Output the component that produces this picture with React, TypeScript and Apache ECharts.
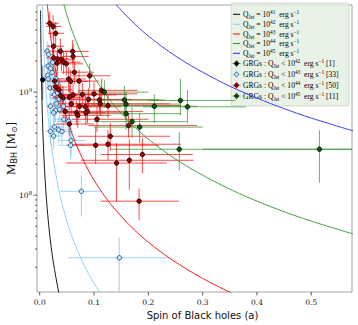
import React, { useEffect, useRef } from "react";
import * as echarts from "echarts";

// ---------- data ----------
const xTicks = [0, 0.1, 0.2, 0.3, 0.4, 0.5];
const yMajorTicks = [1e8, 1e9];
const yMinorTicks = [
  2e7, 3e7, 4e7, 5e7, 6e7, 7e7, 8e7, 9e7,
  2e8, 3e8, 4e8, 5e8, 6e8, 7e8, 8e8, 9e8,
  2e9, 3e9, 4e9, 5e9, 6e9,
];

// Q_jet curves [a, M_BH]
const curveQ41 = [
  [0.0015, 6.2e9], [0.002, 3.5e9], [0.003, 1.56e9], [0.005, 5.6e8], [0.008, 2.19e8],
  [0.012, 9.7e7], [0.018, 4.3e7], [0.025, 2.24e7], [0.035, 1.14e7], [0.04, 8.75e6],
];
const curveQ42 = [
  [0.0045, 6.9e9], [0.005, 5.6e9], [0.006, 3.89e9], [0.008, 2.19e9], [0.01, 1.4e9],
  [0.012, 9.72e8], [0.015, 6.22e8], [0.018, 4.32e8], [0.022, 2.89e8], [0.026, 2.07e8],
  [0.03, 1.56e8], [0.035, 1.14e8], [0.042, 7.94e7], [0.05, 5.6e7], [0.06, 3.89e7],
  [0.07, 2.86e7], [0.08, 2.19e7], [0.09, 1.73e7], [0.1, 1.4e7], [0.11, 1.157e7], [0.12, 9.72e6],
];
const curveQ43 = [
  [0.014, 7.14e9], [0.016, 5.47e9], [0.018, 4.32e9], [0.021, 3.17e9], [0.025, 2.24e9],
  [0.03, 1.56e9], [0.035, 1.14e9], [0.042, 7.94e8], [0.05, 5.6e8], [0.06, 3.89e8],
  [0.07, 2.86e8], [0.085, 1.94e8], [0.1, 1.4e8], [0.12, 9.72e7], [0.14, 7.14e7],
  [0.17, 4.84e7], [0.2, 3.5e7], [0.24, 2.43e7], [0.28, 1.79e7], [0.32, 1.37e7], [0.36, 1.08e7],
];
const curveQ44 = [
  [0.044, 7.23e9], [0.05, 5.6e9], [0.06, 3.89e9], [0.07, 2.86e9], [0.08, 2.19e9],
  [0.09, 1.73e9], [0.1, 1.4e9], [0.115, 1.06e9], [0.13, 8.28e8], [0.15, 6.22e8],
  [0.17, 4.84e8], [0.2, 3.5e8], [0.24, 2.43e8], [0.28, 1.79e8], [0.33, 1.29e8],
  [0.38, 9.7e7], [0.44, 7.23e7], [0.5, 5.6e7], [0.58, 4.16e7],
];
const curveQ45 = [
  [0.14, 7.14e9], [0.16, 5.47e9], [0.18, 4.32e9], [0.2, 3.5e9], [0.23, 2.65e9],
  [0.26, 2.07e9], [0.3, 1.56e9], [0.35, 1.14e9], [0.4, 8.75e8], [0.45, 6.91e8],
  [0.5, 5.6e8], [0.58, 4.16e8],
];

// GRGs: [a, M, aLow, aHigh, MLow, MHigh]
const grgQ42 = [
  [0.0055, 1.32e9, 0.002, 0.009, 8.3e8, 1.8e9],
];
const grgQ43 = [
  [0.0136, 2.5e9, 0.008, 0.022, 2.0e9, 3.1e9],
  [0.0166, 2.32e9, 0.01, 0.028, 1.85e9, 2.9e9],
  [0.0154, 1.79e9, 0.009, 0.026, 1.4e9, 2.3e9],
  [0.024, 1.95e9, 0.014, 0.038, 1.55e9, 2.45e9],
  [0.0142, 1.45e9, 0.008, 0.024, 1.15e9, 1.85e9],
  [0.0154, 1.34e9, 0.009, 0.026, 1.05e9, 1.7e9],
  [0.0228, 1.55e9, 0.013, 0.036, 1.2e9, 1.95e9],
  [0.0295, 1.35e9, 0.017, 0.045, 1.05e9, 1.7e9],
  [0.0313, 1.23e9, 0.018, 0.048, 0.95e9, 1.55e9],
  [0.019, 1.1e9, 0.011, 0.032, 0.85e9, 1.4e9],
  [0.0257, 1.1e9, 0.015, 0.04, 0.85e9, 1.4e9],
  [0.027, 9.5e8, 0.016, 0.042, 7.4e8, 1.2e9],
  [0.033, 9.8e8, 0.019, 0.05, 7.6e8, 1.25e9],
  [0.0357, 8.55e8, 0.021, 0.055, 6.6e8, 1.1e9],
  [0.0417, 8.6e8, 0.025, 0.062, 6.7e8, 1.1e9],
  [0.0197, 7.3e8, 0.011, 0.033, 5.6e8, 9.4e8],
  [0.0307, 7.7e8, 0.018, 0.048, 6.0e8, 9.9e8],
  [0.0289, 6.65e8, 0.017, 0.046, 5.1e8, 8.6e8],
  [0.0368, 6.8e8, 0.022, 0.056, 5.2e8, 8.8e8],
  [0.0257, 6.3e8, 0.015, 0.042, 4.8e8, 8.2e8],
  [0.0436, 7.3e8, 0.026, 0.065, 5.6e8, 9.4e8],
  [0.0441, 5.45e8, 0.026, 0.066, 4.1e8, 7.1e8],
  [0.0533, 5.2e8, 0.032, 0.078, 3.9e8, 6.9e8],
  [0.027, 4.6e8, 0.016, 0.044, 3.5e8, 6.0e8],
  [0.0197, 4.17e8, 0.011, 0.034, 3.1e8, 5.5e8],
  [0.035, 4.3e8, 0.021, 0.054, 3.2e8, 5.7e8],
  [0.041, 4.14e8, 0.024, 0.062, 3.1e8, 5.5e8],
  [0.0257, 3.75e8, 0.015, 0.042, 2.8e8, 5.0e8],
  [0.0577, 3.4e8, 0.035, 0.085, 2.4e8, 4.6e8],
  [0.057, 3.05e8, 0.034, 0.084, 2.2e8, 4.2e8],
  [0.0767, 1.09e8, 0.038, 0.112, 6.2e7, 1.55e8],
  [0.1465, 2.47e7, 0.052, 0.24, 1.0e7, 3.9e7],
  [0.02, 1.7e9, 0.012, 0.03, 1.35e9, 2.15e9],
];
const grgQ44 = [
  [0.0184, 4.65e9, 0.01, 0.035, 3.6e9, 6.0e9],
  [0.0246, 4.33e9, 0.012, 0.04, 3.3e9, 5.6e9],
  [0.0294, 3.72e9, 0.015, 0.045, 2.9e9, 4.8e9],
  [0.0257, 2.79e9, 0.013, 0.045, 2.1e9, 3.6e9],
  [0.038, 2.49e9, 0.02, 0.06, 1.9e9, 3.3e9],
  [0.0607, 2.48e9, 0.035, 0.09, 1.9e9, 3.2e9],
  [0.0614, 2.22e9, 0.04, 0.09, 1.7e9, 2.9e9],
  [0.0257, 2.15e9, 0.012, 0.045, 1.6e9, 2.8e9],
  [0.033, 2.1e9, 0.018, 0.055, 1.6e9, 2.7e9],
  [0.04, 2.06e9, 0.022, 0.065, 1.6e9, 2.7e9],
  [0.044, 1.95e9, 0.025, 0.075, 1.5e9, 2.5e9],
  [0.032, 1.91e9, 0.015, 0.055, 1.45e9, 2.5e9],
  [0.0638, 1.56e9, 0.04, 0.1, 1.2e9, 2.0e9],
  [0.092, 1.44e9, 0.06, 0.13, 1.1e9, 1.9e9],
  [0.0533, 1.34e9, 0.03, 0.085, 1.0e9, 1.75e9],
  [0.057, 1.27e9, 0.035, 0.09, 0.97e9, 1.65e9],
  [0.0724, 1.28e9, 0.045, 0.11, 0.98e9, 1.65e9],
  [0.0276, 1.28e9, 0.014, 0.05, 0.98e9, 1.65e9],
  [0.0294, 1.12e9, 0.015, 0.05, 0.85e9, 1.45e9],
  [0.0357, 1.05e9, 0.018, 0.06, 0.8e9, 1.35e9],
  [0.0386, 9.3e8, 0.02, 0.07, 7.1e8, 1.2e9],
  [0.0546, 8.95e8, 0.03, 0.09, 6.8e8, 1.17e9],
  [0.0614, 9.4e8, 0.035, 0.14, 7.2e8, 1.22e9],
  [0.0785, 9.5e8, 0.045, 0.16, 7.3e8, 1.23e9],
  [0.1, 9.6e8, 0.06, 0.18, 7.3e8, 1.25e9],
  [0.114, 1.04e9, 0.07, 0.18, 8.0e8, 1.35e9],
  [0.043, 8.8e8, 0.022, 0.08, 6.7e8, 1.15e9],
  [0.09, 8.5e8, 0.05, 0.17, 6.5e8, 1.1e9],
  [0.11, 8.4e8, 0.06, 0.22, 6.4e8, 1.1e9],
  [0.1116, 7.7e8, 0.065, 0.24, 5.9e8, 1.0e9],
  [0.058, 7.7e8, 0.03, 0.11, 5.9e8, 1.0e9],
  [0.0735, 7.3e8, 0.04, 0.13, 5.6e8, 9.5e8],
  [0.084, 7.2e8, 0.045, 0.15, 5.5e8, 9.4e8],
  [0.1257, 7.4e8, 0.07, 0.26, 5.6e8, 9.6e8],
  [0.047, 6.5e8, 0.025, 0.085, 5.0e8, 8.5e8],
  [0.0675, 6.3e8, 0.035, 0.12, 4.8e8, 8.2e8],
  [0.07, 5.95e8, 0.04, 0.13, 4.5e8, 7.8e8],
  [0.088, 6.5e8, 0.05, 0.19, 5.0e8, 8.5e8],
  [0.085, 6.3e8, 0.045, 0.16, 4.8e8, 8.2e8],
  [0.1055, 5.45e8, 0.06, 0.2, 4.1e8, 7.2e8],
  [0.0546, 4.9e8, 0.03, 0.1, 3.7e8, 6.4e8],
  [0.1636, 4.73e8, 0.09, 0.29, 3.6e8, 6.2e8],
  [0.13, 3.73e8, 0.07, 0.24, 2.7e8, 5.0e8],
  [0.1257, 3.12e8, 0.06, 0.26, 2.2e8, 4.3e8],
  [0.103, 3.05e8, 0.05, 0.22, 2.0e8, 4.6e8],
  [0.1415, 2.05e8, 0.049, 0.234, 8.6e7, 3.2e8],
  [0.165, 2.18e8, 0.076, 0.283, 1.13e8, 3.5e8],
  [0.189, 2.48e8, 0.113, 0.282, 1.63e8, 3.6e8],
  [0.183, 8.75e7, 0.112, 0.256, 5.7e7, 1.16e8],
  [0.049, 1.88e9, 0.028, 0.08, 1.45e9, 2.45e9],
];
const grgQ45 = [
  [0.119, 1.0e9, 0.07, 0.2, 7.0e8, 1.3e9],
  [0.156, 8.4e8, 0.1, 0.23, 6.2e8, 1.15e9],
  [0.159, 7.65e8, 0.09, 0.26, 5.3e8, 1.0e9],
  [0.211, 7.3e8, 0.12, 0.29, 5.0e8, 9.5e8],
  [0.159, 6.17e8, 0.09, 0.26, 4.3e8, 8.5e8],
  [0.17, 5.17e8, 0.1, 0.27, 3.6e8, 7.2e8],
  [0.184, 4.58e8, 0.1, 0.3, 3.2e8, 6.3e8],
  [0.259, 8.3e8, 0.2, 0.36, 6.0e8, 1.35e9],
  [0.272, 7.2e8, 0.19, 0.38, 5.0e8, 1.05e9],
  [0.257, 2.79e8, 0.13, 0.58, 1.74e8, 4.1e8],
  [0.515, 2.79e8, 0.3, 0.62, 1.32e8, 4.26e8],
];

const curveLabels = ["41", "42", "43", "44", "45"];
const grgLabels = ["42", "43", "44", "45"];
const grgCounts = ["1", "33", "50", "11"];

// ---------- styles ----------
const curveColors = ["#000000", "#87cefa", "#ff0000", "#2e9a2e", "#2a2aff"];
const barColors = ["rgba(70,70,70,0.75)", "rgba(135,206,250,0.85)", "rgba(255,0,0,0.7)", "rgba(40,140,40,0.7)"];
const markerFill = ["#000000", "#bfe3f7", "#9a0000", "#0a5a0a"];
const markerEdge = ["#000000", "#1d3f6e", "#000000", "#000000"];
const SERIF = "'Liberation Serif', 'DejaVu Serif', serif";
const SYM = "'DejaVu Sans', 'Liberation Serif', serif";

function errorBarSeries(rows: number[][], color: string) {
  return {
    type: "custom",
    data: rows,
    encode: { x: 0, y: 1 },
    clip: true,
    silent: true,
    z: 2,
    renderItem: (params: any, api: any) => {
      const a = api.value(0), m = api.value(1);
      const h1 = api.coord([api.value(2), m]);
      const h2 = api.coord([api.value(3), m]);
      const v1 = api.coord([a, api.value(4)]);
      const v2 = api.coord([a, api.value(5)]);
      const st = { stroke: color, lineWidth: 1 };
      return {
        type: "group",
        children: [
          { type: "line", shape: { x1: h1[0], y1: h1[1], x2: h2[0], y2: h2[1] }, style: st },
          { type: "line", shape: { x1: v1[0], y1: v1[1], x2: v2[0], y2: v2[1] }, style: st },
        ],
      };
    },
  };
}

function tickSeries(values: number[], axis: "x" | "y", len: number) {
  return {
    type: "custom",
    data: values.map((v) => (axis === "x" ? [v, 1e8] : [0, v])),
    encode: { x: 0, y: 1 },
    clip: false,
    silent: true,
    z: 10,
    renderItem: (params: any, api: any) => {
      const p = api.coord([api.value(0), api.value(1)]);
      const cs = params.coordSys;
      const st = { stroke: "#333", lineWidth: 0.8 };
      if (axis === "x") {
        const yb = cs.y + cs.height;
        return { type: "line", shape: { x1: p[0], y1: yb, x2: p[0], y2: yb + len }, style: st };
      }
      return { type: "line", shape: { x1: cs.x - len, y1: p[1], x2: cs.x, y2: p[1] }, style: st };
    },
  };
}

const legendRich = {
  t: { fontFamily: SERIF, fontSize: 7.6, lineHeight: 10, color: "#111", verticalAlign: "middle" },
  b: { fontFamily: SERIF, fontSize: 5.3, lineHeight: 5, color: "#111", verticalAlign: "bottom" },
  p: { fontFamily: SERIF, fontSize: 5.3, lineHeight: 5, color: "#111", verticalAlign: "top" },
};

function buildLegend() {
  const children: any[] = [];
  children.push({
    type: "rect",
    shape: { x: 231, y: 3, width: 118, height: 103, r: 2 },
    style: { fill: "rgba(228,239,224,0.82)", stroke: "#c8cfc6", lineWidth: 0.7 },
  });
  const lineRows = [14.3, 24.3, 34, 43.5, 53.3];
  curveLabels.forEach((q, i) => {
    const y = lineRows[i];
    children.push({
      type: "line",
      shape: { x1: 233, y1: y, x2: 240, y2: y },
      style: { stroke: curveColors[i], lineWidth: 1 },
    });
    children.push({
      type: "text",
      x: 243,
      y: y,
      style: {
        text: `{t|Q}{b|Jet}{t| = 10}{p|${q}}{t|  erg s}{p|−1}`,
        rich: legendRich,
        verticalAlign: "middle",
        align: "left",
      },
    });
  });
  const grgRows = [63.5, 74.3, 85.3, 96];
  grgLabels.forEach((q, i) => {
    const y = grgRows[i];
    children.push({
      type: "line",
      shape: { x1: 232.5, y1: y, x2: 240.5, y2: y },
      style: { stroke: barColors[i], lineWidth: 1 },
    });
    children.push({
      type: "line",
      shape: { x1: 236.5, y1: y - 3.5, x2: 236.5, y2: y + 3.5 },
      style: { stroke: barColors[i], lineWidth: 1 },
    });
    children.push({
      type: "circle",
      shape: { cx: 236.5, cy: y, r: 2 },
      style: { fill: markerFill[i], stroke: markerEdge[i], lineWidth: 0.7 },
    });
    children.push({
      type: "text",
      x: 243,
      y: y,
      style: {
        text: `{t|GRGs : Q}{b|Jet}{t| < 10}{p|${q}}{t|  erg s}{p|−1}{t| [${grgCounts[i]}]}`,
        rich: legendRich,
        verticalAlign: "middle",
        align: "left",
      },
    });
  });
  return { type: "group", children, z: 100 };
}

export default function App() {
  const ref = useRef<HTMLDivElement>(null);
  useEffect(() => {
    if (!ref.current) return;
    const chart = echarts.init(ref.current, undefined, { renderer: "svg" });
    const curves = [curveQ41, curveQ42, curveQ43, curveQ44, curveQ45];
    const groups = [grgQ42, grgQ43, grgQ44, grgQ45];
    const series: any[] = [];
    groups.forEach((g, i) => series.push(errorBarSeries(g, barColors[i])));
    curves.forEach((c, i) =>
      series.push({
        type: "line",
        data: c,
        showSymbol: false,
        symbol: "none",
        smooth: 0.3,
        clip: true,
        silent: true,
        z: 3,
        lineStyle: { color: curveColors[i], width: 0.9 },
      })
    );
    groups.forEach((g, i) =>
      series.push({
        type: "scatter",
        data: g.map((r) => [r[0], r[1]]),
        symbol: "circle",
        symbolSize: 4.5,
        silent: true,
        z: 4,
        itemStyle: { color: markerFill[i], borderColor: markerEdge[i], borderWidth: 0.8, opacity: 1 },
      })
    );
    series.push(tickSeries(xTicks, "x", 3.5));
    series.push(tickSeries(yMajorTicks, "y", 3.5));
    series.push(tickSeries(yMinorTicks, "y", 2));

    chart.setOption({
      animation: false,
      backgroundColor: "#ffffff",
      grid: {
        left: 37,
        right: 6,
        top: 5,
        bottom: 33,
        show: true,
        borderColor: "#8c8c8c",
        borderWidth: 0.8,
        backgroundColor: "transparent",
        containLabel: false,
        outerBoundsMode: "none",
      },
      xAxis: {
        type: "value",
        min: -0.005,
        max: 0.575,
        axisLine: { show: false },
        axisTick: { show: false },
        splitLine: { show: false },
        axisLabel: {
          showMinLabel: false,
          showMaxLabel: false,
          margin: 6,
          fontFamily: "'DejaVu Serif', serif",
          fontSize: 7.5,
          color: "#111",
          formatter: (v: number) => v.toFixed(1),
        },
        name: "Spin of Black holes (a)",
        nameLocation: "middle",
        nameGap: 18,
        nameMoveOverlap: false,
        nameTextStyle: {
          fontFamily: "'DejaVu Sans', sans-serif",
          fontSize: 10,
          color: "#111",
          padding: [0, 0, 0, 16],
        },
      },
      yAxis: {
        type: "log",
        logBase: 10,
        min: 1.15e7,
        max: 7e9,
        axisLine: { show: false },
        axisTick: { show: false },
        splitLine: { show: false },
        minorTick: { show: false },
        axisLabel: {
          showMinLabel: false,
          showMaxLabel: false,
          margin: 5,
          formatter: (v: number) => `{b|10}{s|${Math.round(Math.log10(v))}}`,
          rich: {
            b: { fontFamily: "'DejaVu Serif', serif", fontSize: 7.5, lineHeight: 10, color: "#111" },
            s: { fontFamily: "'DejaVu Serif', serif", fontSize: 5.3, lineHeight: 5, color: "#111", verticalAlign: "top" },
          },
        },
        name: "{m|M}{s|BH}{m| [M}{s|⊙}{m|]}",
        nameLocation: "middle",
        nameRotate: 90,
        nameGap: 19,
        nameMoveOverlap: false,
        nameTextStyle: {
          rich: {
            m: { fontFamily: SERIF, fontSize: 13, lineHeight: 15, color: "#111" },
            s: { fontFamily: SYM, fontSize: 8, lineHeight: 8, color: "#111", verticalAlign: "bottom" },
          },
        },
      },
      graphic: [buildLegend()],
      series,
    });
    return () => chart.dispose();
  }, []);
  return (
    <div
      ref={ref}
      style={{ position: "fixed", left: 0, top: 0, width: 358, height: 325 }}
    />
  );
}
